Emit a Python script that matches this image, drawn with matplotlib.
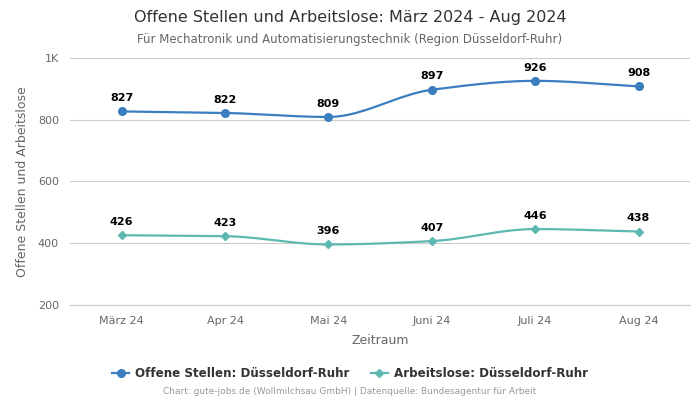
import numpy as np
import matplotlib
matplotlib.use("Agg")
import matplotlib.pyplot as plt

# chart data
months = ["März 24", "Apr 24", "Mai 24", "Juni 24", "Juli 24", "Aug 24"]
offene_stellen = [827, 822, 809, 897, 926, 908]
arbeitslose = [426, 423, 396, 407, 446, 438]
y_ticks = [200, 400, 600, 800, 1000]
y_tick_labels = ["200", "400", "600", "800", "1K"]

BLUE = "#3a7ebf"
TEAL = "#5cb8b0"


def smooth_curve(x, y, n=40):
    """Monotone cubic (Fritsch-Carlson) curve through the points, for drawing only"""
    x = np.asarray(x, dtype=float)
    y = np.asarray(y, dtype=float)
    h = np.diff(x)
    d = np.diff(y) / h
    m = np.zeros_like(y)
    m[0], m[-1] = d[0], d[-1]
    for i in range(1, len(y) - 1):
        if d[i - 1] * d[i] > 0:
            m[i] = 2 / (1 / d[i - 1] + 1 / d[i])
    xs, ys = [], []
    for i in range(len(h)):
        t = np.linspace(0, 1, n)
        h00 = 2 * t**3 - 3 * t**2 + 1
        h10 = t**3 - 2 * t**2 + t
        h01 = -2 * t**3 + 3 * t**2
        h11 = t**3 - t**2
        xs.append(x[i] + t * h[i])
        ys.append(h00 * y[i] + h10 * h[i] * m[i] + h01 * y[i + 1] + h11 * h[i] * m[i + 1])
    return np.concatenate(xs), np.concatenate(ys)


fig = plt.figure(figsize=(7, 4), dpi=100)
ax = fig.add_axes([0.1, 0.2375, 0.886, 0.6175])

x = np.arange(len(months))

for values, color, marker, ms, label in [
    (offene_stellen, BLUE, "o", 5.5, "Offene Stellen: Düsseldorf-Ruhr"),
    (arbeitslose, TEAL, "D", 3.8, "Arbeitslose: Düsseldorf-Ruhr"),
]:
    sx, sy = smooth_curve(x, values)
    ax.plot(sx, sy, color=color, lw=1.6, zorder=3)
    ax.plot(x, values, ls="none", marker=marker, ms=ms, color=color, zorder=4)
    ax.plot([], [], color=color, lw=1.6, marker=marker, ms=ms, label=label)
    for xi, v in zip(x, values):
        ax.annotate(str(v), (xi, v), xytext=(0, 6), textcoords="offset points",
                    ha="center", va="bottom", fontsize=8, fontweight="bold", color="black")

ax.set_xlim(-0.5, len(months) - 0.5)
ax.set_ylim(200, 1000)
ax.set_xticks(x)
ax.set_xticklabels(months)
ax.set_yticks(y_ticks)
ax.set_yticklabels(y_tick_labels)
ax.tick_params(axis="both", length=0, labelsize=8, colors="#666666", pad=8)
ax.grid(axis="y", color="#cccccc", lw=0.8)
ax.axhline(y_ticks[0], color="#cccccc", lw=0.8, clip_on=False, zorder=1)
ax.set_axisbelow(True)
for s in ax.spines.values():
    s.set_visible(False)

ax.set_xlabel("Zeitraum", fontsize=9, color="#666666", labelpad=6)
ax.set_ylabel("Offene Stellen und Arbeitslose", fontsize=9, color="#666666", labelpad=6)

fig.text(0.5, 0.957, "Offene Stellen und Arbeitslose: März 2024 - Aug 2024",
         ha="center", va="center", fontsize=11.5, color="#333333")
fig.text(0.5, 0.902, "Für Mechatronik und Automatisierungstechnik (Region Düsseldorf-Ruhr)",
         ha="center", va="center", fontsize=8.5, color="#666666")

leg = fig.legend(loc="center", bbox_to_anchor=(0.5, 0.067), ncol=2, frameon=False,
                 prop={"size": 8.6, "weight": "bold"}, handlelength=1.4, handletextpad=0.5,
                 columnspacing=1.8)
for t in leg.get_texts():
    t.set_color("#333333")

fig.text(0.5, 0.02, "Chart: gute-jobs.de (Wollmilchsau GmbH) | Datenquelle: Bundesagentur für Arbeit",
         ha="center", va="center", fontsize=6.5, color="#999999")

fig.savefig("out.png", dpi=100)
